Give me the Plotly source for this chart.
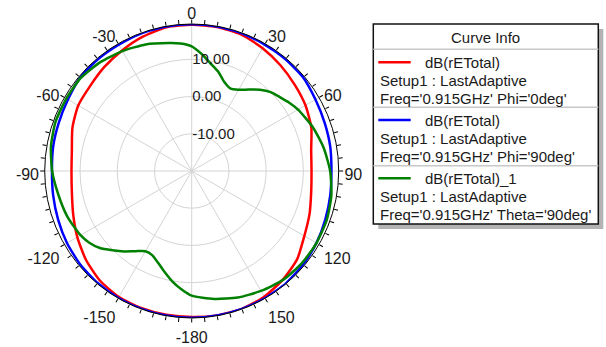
import plotly.graph_objects as go

# ---- pattern data (dB) ----
# dB(rETotal), Phi = 0deg cut, sampled over theta
red_theta = [-180, -170, -160, -150, -140, -130, -120, -110, -100, -90, -80, -70, -60, -50, -40,
             -30, -20, -10, 0, 10, 20, 30, 40, 50, 60, 70, 80, 90, 100, 110, 120, 130, 140,
             150, 160, 170, 180]
red_db = [19.25, 19.25, 19.25, 19.1, 18.4, 17.1, 15.5, 13.9, 12.7, 12.3, 12.7, 14.1, 15.2, 15.6, 16.5,
          17.4, 18.4, 19.2, 19.3, 19.3, 19.0, 18.1, 17.1, 16.1, 15.3, 14.2, 12.6, 12.2, 12.6, 13.7, 14.95,
          16.96, 18.1, 19.0, 19.4, 19.4, 19.25]

# dB(rETotal), Phi = 90deg cut
blue_theta = red_theta
blue_db = [19.45, 19.45, 19.45, 19.4, 19.3, 19.1, 18.7, 18.2, 17.8, 17.55, 17.8, 18.0, 18.4, 19.1, 19.2,
           19.2, 19.4, 19.45, 19.45, 19.45, 19.4, 19.2, 19.2, 19.1, 18.4, 18.0, 17.8, 17.55, 17.8, 18.2, 18.7,
           19.1, 19.4, 19.45, 19.45, 19.45, 19.45]

# dB(rETotal)_1, Theta = 90deg cut, sampled over phi
green_phi = [-180, -175, -170, -165, -160, -155, -150, -145, -140, -135, -130, -125, -120, -110, -100,
             -90, -80, -70, -60, -50, -40, -30, -20, -10, -5, 0, 5, 10, 15, 20, 25, 30, 35, 40, 45,
             50, 55, 60, 70, 80, 90, 100, 110, 120, 130, 140, 150, 160, 170, 180]
green_db = [13.5, 11.9, 10.1, 8.1, 6.3, 5.0, 4.9, 6.3, 8.2, 10.1, 12.2, 13.6, 14.5, 15.6, 16.4,
            17.5, 18.4, 18.9, 18.9, 18.9, 18.2, 17.2, 16.2, 14.9, 14.4, 13.5, 11.5, 9.3, 7.6, 5.5, 4.5,
            5.2, 6.7, 8.5, 10.0, 10.9, 12.0, 13.0, 14.6, 16.0, 17.2, 18.1, 18.6, 18.7, 18.6, 18.2, 17.2,
            16.2, 14.9, 13.5]

radial_ticks = [-10, 0, 10]
radial_labels = ["-10.00", "0.00", "10.00"]
angle_ticks = [0, 30, 60, 90, 120, 150, 180, 210, 240, 270, 300, 330]
angle_labels = ["0", "30", "60", "90", "120", "150", "-180", "-150", "-120", "-90", "-60", "-30"]

legend_entries = [
    ("dB(rETotal)", "Setup1 : LastAdaptive", "Freq='0.915GHz' Phi='0deg'", "#ff0000"),
    ("dB(rETotal)", "Setup1 : LastAdaptive", "Freq='0.915GHz' Phi='90deg'", "#0000ff"),
    ("dB(rETotal)_1", "Setup1 : LastAdaptive", "Freq='0.915GHz' Theta='90deg'", "#008000"),
]

W, H = 606, 347
FONT = "Liberation Sans, Arial, sans-serif"
TXT = "#1a1a1a"

fig = go.Figure()
for th, r, col, name in [(red_theta, red_db, "#ff0000", "Phi=0deg"),
                         (blue_theta, blue_db, "#0000ff", "Phi=90deg"),
                         (green_phi, green_db, "#008000", "Theta=90deg")]:
    fig.add_trace(go.Scatterpolar(theta=th, r=r, mode="lines", name=name,
                                  line=dict(color=col, width=2.5, shape="spline", smoothing=0.6),
                                  subplot="polar", showlegend=False))

# empty traces so the tick-ring and label-ring subplots get drawn
fig.add_trace(go.Scatterpolar(theta=[], r=[], subplot="polar2", showlegend=False))
fig.add_trace(go.Scatterpolar(theta=[], r=[], subplot="polar3", showlegend=False))

cx, cy, R = 191.7, 171.0, 147.0
dom_x = [(cx - R) / W, (cx + R) / W]
dom_y = [(H - cy - R) / H, (H - cy + R) / H]
# angle labels sit on a ring nudged slightly down
lab_dy = 3.5 / H
dom_y_lab = [dom_y[0] - lab_dy, dom_y[1] - lab_dy]

fig.update_layout(
    width=W, height=H, margin=dict(l=0, r=0, t=0, b=0),
    paper_bgcolor="white",
    font=dict(family=FONT, color=TXT),
    polar=dict(
        domain=dict(x=dom_x, y=dom_y),
        bgcolor="white",
        radialaxis=dict(range=[-20, 19.5], tickvals=radial_ticks, ticktext=radial_labels,
                        showline=False, ticks="", gridcolor="#d4d4d4", gridwidth=1,
                        angle=90, tickangle=90, side="clockwise",
                        tickfont=dict(size=15, color=TXT, family=FONT)),
        angularaxis=dict(rotation=90, direction="clockwise", tickmode="array",
                         tickvals=angle_ticks, showticklabels=False, ticks="",
                         showline=False, gridcolor="#d4d4d4", gridwidth=1),
    ),
    polar2=dict(
        domain=dict(x=dom_x, y=dom_y),
        bgcolor="rgba(0,0,0,0)",
        radialaxis=dict(visible=False, range=[-20, 19.5]),
        angularaxis=dict(rotation=90, direction="clockwise", tickmode="array",
                         tickvals=list(range(0, 360, 5)), showticklabels=False,
                         ticks="outside", ticklen=4, tickwidth=1, tickcolor="black",
                         showgrid=False, showline=True, linecolor="black", linewidth=1),
    ),
    polar3=dict(
        domain=dict(x=dom_x, y=dom_y_lab),
        bgcolor="rgba(0,0,0,0)",
        radialaxis=dict(visible=False, range=[-20, 19.5]),
        angularaxis=dict(rotation=90, direction="clockwise", tickmode="array",
                         tickvals=angle_ticks, ticktext=angle_labels,
                         ticks="outside", ticklen=2, tickcolor="rgba(0,0,0,0)",
                         showgrid=False, showline=False,
                         tickfont=dict(size=16, color=TXT, family=FONT)),
    ),
)

# ---- curve info box ----
def px(x):
    return x / W

def py(y):
    return 1 - y / H

bx0, by0, bx1, by1 = 373.3, 24.0, 598.3, 224.0
shapes = [
    dict(type="rect", xref="paper", yref="paper", x0=px(bx0 + 5), x1=px(bx1 + 5),
         y0=py(by0 + 5), y1=py(by1 + 5), fillcolor="#b3b3b3", line=dict(width=0)),
    dict(type="rect", xref="paper", yref="paper", x0=px(bx0), x1=px(bx1),
         y0=py(by0), y1=py(by1), fillcolor="white", line=dict(color="#111111", width=1.5)),
]
for sy in [49.3, 107.3, 165.7]:
    shapes.append(dict(type="line", xref="paper", yref="paper", x0=px(bx0), x1=px(bx1),
                       y0=py(sy), y1=py(sy), line=dict(color="#c8c8c8", width=1.5)))

annotations = [dict(x=px((bx0 + bx1) / 2), y=py(37.3), xref="paper", yref="paper",
                    text="Curve Info", showarrow=False, xanchor="center", yanchor="middle",
                    font=dict(size=15, color=TXT, family=FONT))]
row_y = [62.3, 120.0, 178.3]
for (head, setup, freq, col), y0 in zip(legend_entries, row_y):
    shapes.append(dict(type="line", xref="paper", yref="paper", x0=px(378.3), x1=px(410.7),
                       y0=py(y0), y1=py(y0), line=dict(color=col, width=2.5)))
    annotations.append(dict(x=px(423.3), y=py(y0), xref="paper", yref="paper", text=head,
                            showarrow=False, xanchor="left", yanchor="middle",
                            font=dict(size=15, color=TXT, family=FONT)))
    for k, t in enumerate([setup, freq]):
        annotations.append(dict(x=px(378.0), y=py(y0 + 18.2 * (k + 1)), xref="paper", yref="paper",
                                text=t, showarrow=False, xanchor="left", yanchor="middle",
                                font=dict(size=15, color=TXT, family=FONT)))

fig.update_layout(shapes=shapes, annotations=annotations)
fig.write_html("out.html")
